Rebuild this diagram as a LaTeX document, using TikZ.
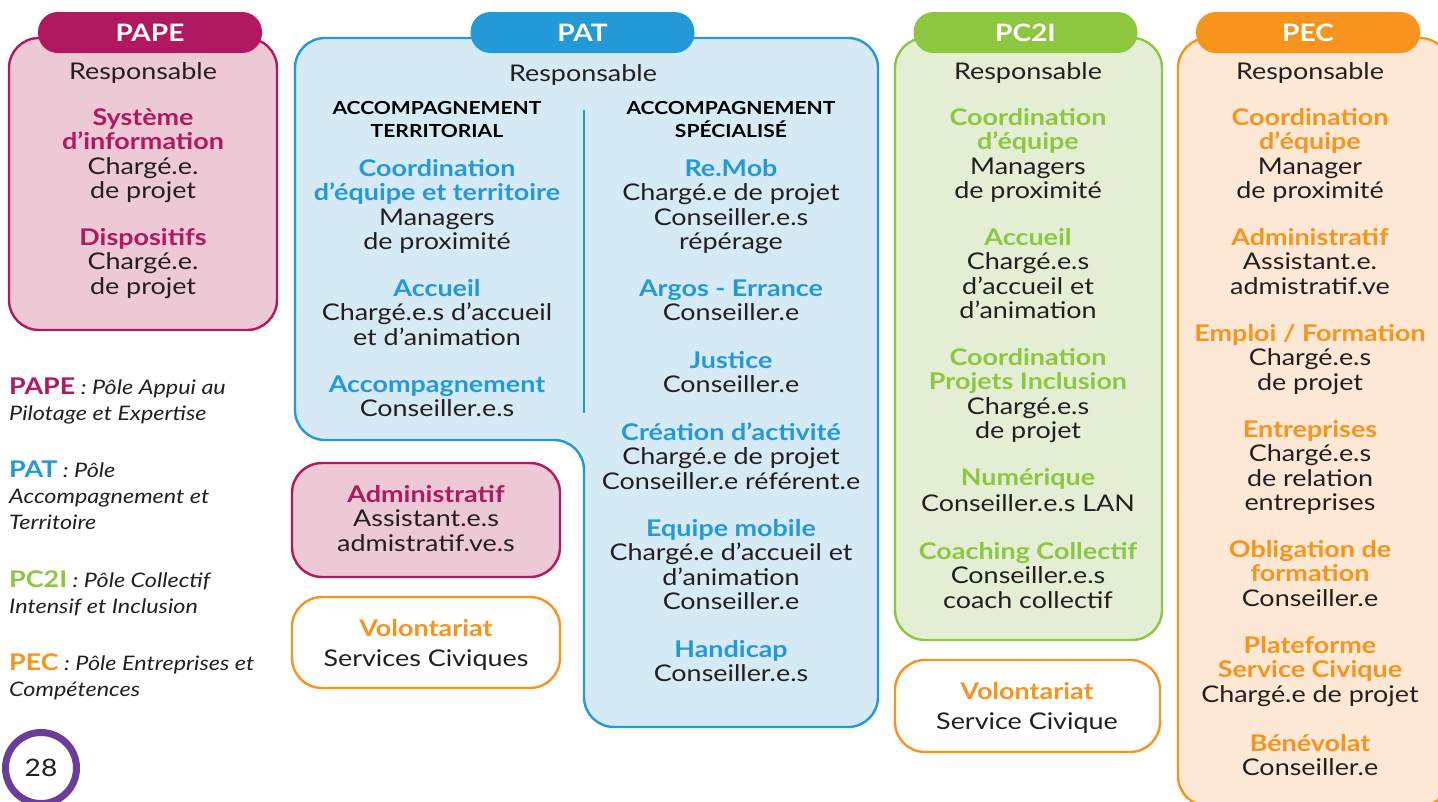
\documentclass[tikz,border=0pt]{standalone}
\usepackage{fontspec}
\setmainfont{Lato}[FakeStretch=1.17]
\definecolor{txt}{HTML}{231F20}
\definecolor{papec}{HTML}{B0185F}
\definecolor{papef}{HTML}{ECC9D5}
\definecolor{patc}{HTML}{2499D7}
\definecolor{patf}{HTML}{D5EAF5}
\definecolor{pcc}{HTML}{8DC63F}
\definecolor{pcf}{HTML}{E3EED5}
\definecolor{pecc}{HTML}{F7941E}
\definecolor{pecf}{HTML}{FCE8D4}
\definecolor{purp}{HTML}{6A3D98}
\newcommand\hb[2]{\textcolor{#1}{\bfseries #2}}
\begin{document}
\begin{tikzpicture}[x=1pt,y=-1pt,
  body/.style={align=center, inner sep=0pt, text=txt, font=\fontsize{23}{24.5}\selectfont, anchor=base},
  wide/.style={body, font=\fontsize{23}{30}\selectfont},
  secthead/.style={align=center, inner sep=0pt, text=black, font=\fontsize{18}{23}\selectfont\bfseries, anchor=base},
  tab/.style={rectangle, rounded corners=20pt, minimum width=224pt, minimum height=41pt, inner sep=0pt, text=white, font=\fontsize{24}{26}\selectfont\bfseries},
  frame/.style={line width=2.4pt, rounded corners=30pt},
  legend/.style={align=left, inner sep=0pt, anchor=base west, text=txt, font=\fontsize{20}{26}\selectfont\itshape}]
\useasboundingbox (0,0) rectangle (1438,801);

% ---------- PAPE ----------
\draw[frame, draw=papec, fill=papef] (9,38) rectangle (277,330);
\node[tab, fill=papec] (papetab) at (150,32.5) {PAPE};
\node[body] (paper) at (143,79) {Responsable};
\node[body] (pape1) at (143,198.5) {\hb{papec}{Système}\\\hb{papec}{d’information}\\Chargé.e.\\de projet};
\node[body] (pape2) at (143,294) {\hb{papec}{Dispositifs}\\Chargé.e.\\de projet};

% ---------- PAT ----------
\draw[frame, draw=patc, fill=patf] (295,38) -- (878,38) -- (878,727) -- (584,727) -- (584,440) -- (295,440) -- cycle;
\node[tab, fill=patc] (pattab) at (582.5,32.5) {PAT};
\node[body] (patr) at (583,81) {Responsable};
\coordinate (divtop) at (584,110);
\coordinate (divbot) at (584,413);
\draw[patc, line width=2.4pt] (divtop) -- (divbot);
\node[secthead] (patlh) at (437,137.5) {ACCOMPAGNEMENT\\TERRITORIAL};
\node[body] (patl1) at (437,249.5) {\hb{patc}{Coordination}\\\hb{patc}{d’équipe et territoire}\\Managers\\de proximité};
\node[body] (patl2) at (437,345) {\hb{patc}{Accueil}\\Chargé.e.s d’accueil\\et d’animation};
\node[body] (patl3) at (437,416.5) {\hb{patc}{Accompagnement}\\Conseiller.e.s};
\node[secthead] (patrh) at (731,137.5) {ACCOMPAGNEMENT\\SPÉCIALISÉ};
\node[body] (patr1) at (731,249.5) {\hb{patc}{Re.Mob}\\Chargé.e de projet\\Conseiller.e.s\\répérage};
\node[body] (patr2) at (731,320.5) {\hb{patc}{Argos - Errance}\\Conseiller.e};
\node[body] (patr3) at (731,392.5) {\hb{patc}{Justice}\\Conseiller.e};
\node[body] (patr4) at (731,489) {\hb{patc}{Création d’activité}\\Chargé.e de projet\\Conseiller.e référent.e};
\node[body] (patr5) at (731,609.5) {\hb{patc}{Equipe mobile}\\Chargé.e d’accueil et\\d’animation\\Conseiller.e};
\node[body] (patr6) at (731,681.5) {\hb{patc}{Handicap}\\Conseiller.e.s};

% ---------- Administratif / Volontariat (left) ----------
\draw[frame, draw=papec, fill=papef] (292,463) rectangle (560,577);
\node[body] (adm) at (426,551) {\hb{papec}{Administratif}\\Assistant.e.s\\admistratif.ve.s};
\draw[frame, draw=pecc, fill=white] (292,597) rectangle (560,688);
\node[wide] (vol1) at (426,666) {\hb{pecc}{Volontariat}\\Services Civiques};

% ---------- PC2I ----------
\draw[frame, draw=pcc, fill=pcf] (895,38) rectangle (1162,640);
\node[tab, fill=pcc] (pctab) at (1025.5,32.5) {PC2I};
\node[body] (pcr) at (1028,79) {Responsable};
\node[body] (pc1) at (1028,198.5) {\hb{pcc}{Coordination}\\\hb{pcc}{d’équipe}\\Managers\\de proximité};
\node[body] (pc2) at (1028,318.5) {\hb{pcc}{Accueil}\\Chargé.e.s\\d’accueil et\\d’animation};
\node[body] (pc3) at (1028,438.5) {\hb{pcc}{Coordination}\\\hb{pcc}{Projets Inclusion}\\Chargé.e.s\\de projet};
\node[body, font=\fontsize{23}{26}\selectfont] (pc4) at (1028,511) {\hb{pcc}{Numérique}\\Conseiller.e.s LAN};
\node[body] (pc5) at (1028,608) {\hb{pcc}{Coaching Collectif}\\Conseiller.e.s\\coach collectif};
\draw[frame, draw=pecc, fill=white] (895,660) rectangle (1160,752);
\node[wide] (vol2) at (1027,729) {\hb{pecc}{Volontariat}\\Service Civique};

% ---------- PEC ----------
\draw[frame, draw=pecc, fill=pecf] (1178,38) rectangle (1450,806);
\node[tab, fill=pecc] (pectab) at (1308,32.5) {PEC};
\node[body] (pecr) at (1310,79) {Responsable};
\node[body] (pec1) at (1310,198.5) {\hb{pecc}{Coordination}\\\hb{pecc}{d’équipe}\\Manager\\de proximité};
\node[body] (pec2) at (1310,294) {\hb{pecc}{Administratif}\\Assistant.e.\\admistratif.ve};
\node[body] (pec3) at (1310,390) {\hb{pecc}{Emploi / Formation}\\Chargé.e.s\\de projet};
\node[body] (pec4) at (1310,510.5) {\hb{pecc}{Entreprises}\\Chargé.e.s\\de relation\\entreprises};
\node[body] (pec5) at (1310,606) {\hb{pecc}{Obligation de}\\\hb{pecc}{formation}\\Conseiller.e};
\node[body] (pec6) at (1310,702) {\hb{pecc}{Plateforme}\\\hb{pecc}{Service Civique}\\Chargé.e de projet};
\node[body] (pec7) at (1310,775.5) {\hb{pecc}{Bénévolat}\\Conseiller.e};

% ---------- Legend ----------
\node[legend] (lg1) at (9,420) {{\upshape\bfseries\fontsize{23}{26}\selectfont\color{papec}PAPE} : Pôle Appui au\\Pilotage et Expertise};
\node[legend] (lg2) at (9,529) {{\upshape\bfseries\fontsize{23}{26}\selectfont\color{patc}PAT} : Pôle\\Accompagnement et\\Territoire};
\node[legend] (lg3) at (9,613) {{\upshape\bfseries\fontsize{23}{26}\selectfont\color{pcc}PC2I} : Pôle Collectif\\Intensif et Inclusion};
\node[legend] (lg4) at (9,696) {{\upshape\bfseries\fontsize{23}{26}\selectfont\color{pecc}PEC} : Pôle Entreprises et\\Compétences};

% ---------- page number ----------
\node[circle, draw=purp, line width=7pt, fill=white, minimum size=71pt, inner sep=0pt, text=txt, font=\fontsize{24}{26}\selectfont] (pnum) at (41,768) {28};
\end{tikzpicture}
\end{document}
